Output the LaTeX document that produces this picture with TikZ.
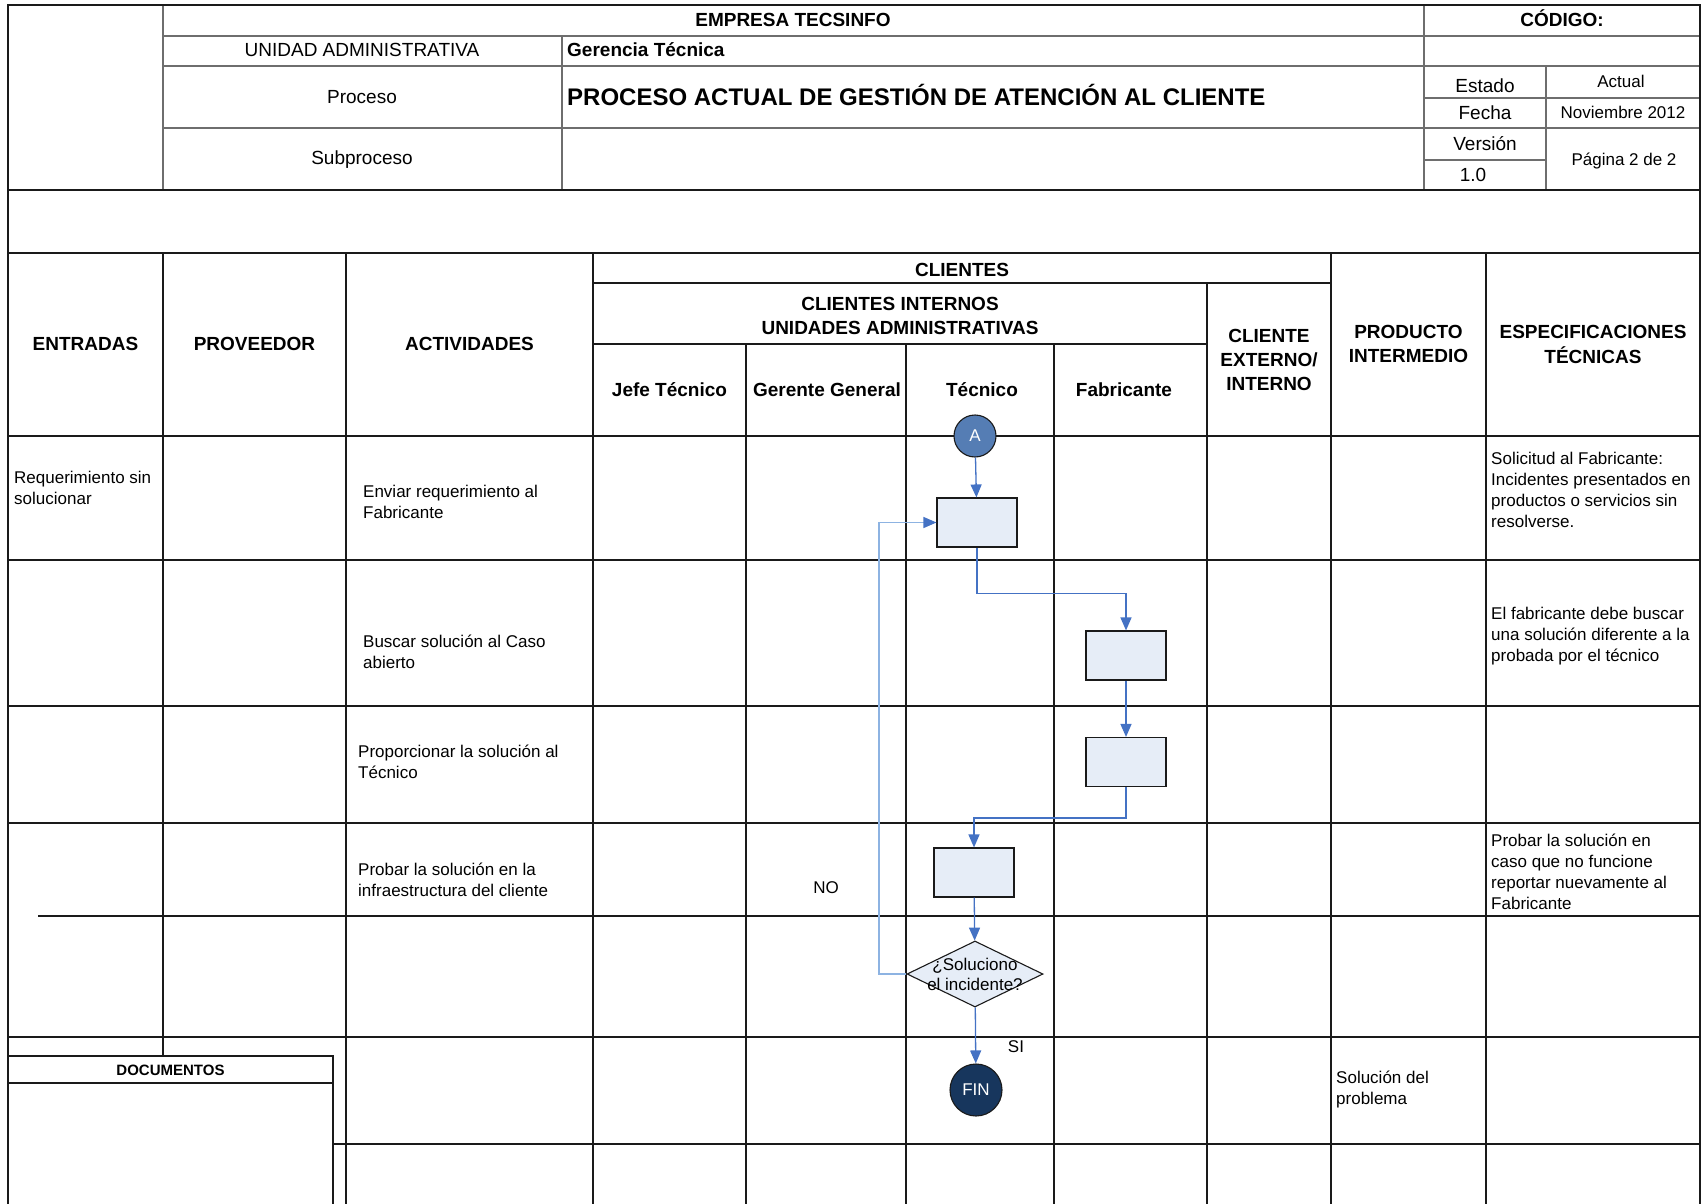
\documentclass[tikz,border=0pt]{standalone}
\usepackage{fontspec}
\setmainfont{Liberation Sans}
\usetikzlibrary{arrows.meta,shapes.geometric,calc}
\definecolor{tblblack}{HTML}{1A1A1A}
\definecolor{tblgray}{HTML}{6E6E6E}
\definecolor{boxfill}{HTML}{E6EDF7}
\definecolor{flowblue}{HTML}{4472C4}
\definecolor{loopblue}{HTML}{8DB3E2}
\definecolor{startfill}{HTML}{557DB4}
\definecolor{endfill}{HTML}{17365D}
\newcommand\setfs[2]{\fontsize{#1}{#2}\selectfont}
\begin{document}
\begin{tikzpicture}[x=1pt,y=-1pt,
  tbl/.style={draw=tblblack, line width=1.3},
  tblthin/.style={draw=tblgray, line width=1.3},
  hb/.style={font=\bfseries\setfs{19}{24}, inner sep=0, anchor=base},
  hbm/.style={font=\bfseries\setfs{19}{24}, inner sep=0, anchor=north, align=center},
  hr/.style={font=\setfs{19}{24}, inner sep=0, anchor=base},
  hs/.style={font=\setfs{17}{21}, inner sep=0, anchor=base},
  body/.style={font=\setfs{17}{21}, inner sep=0, anchor=north west, align=left},
  stepbox/.style={draw=tblblack, fill=boxfill, minimum width=80, minimum height=49, inner sep=0, line width=1.1},
  decision/.style={diamond, draw=tblblack, fill=boxfill, minimum width=136, minimum height=66, inner sep=0, line width=1.1},
  startnode/.style={circle, draw=tblblack, fill=startfill, minimum size=42, inner sep=0, line width=1.1, text=white, font=\setfs{17}{20}},
  endnode/.style={circle, draw=tblblack, fill=endfill, minimum size=52, inner sep=0, line width=1.1, text=white, font=\setfs{17}{20}},
  flow/.style={draw=flowblue, line width=1.3, -{Triangle[width=11pt,length=13pt]}},
  loopflow/.style={draw=loopblue, line width=1.3, -{Triangle[width=11pt,length=13pt,color=flowblue]}}
]
\useasboundingbox (0,0) rectangle (1701,1204);

% ---- title block ----
\draw[tblthin] (163,36) -- (1700,36);
\draw[tblthin] (163,66) -- (1700,66);
\draw[tblthin] (1424,98) -- (1700,98);
\draw[tblthin] (163,128) -- (1700,128);
\draw[tblthin] (1424,160) -- (1546,160);
\draw[tblthin] (163,5) -- (163,190);
\draw[tblthin] (562,36) -- (562,190);
\draw[tblthin] (1424,5) -- (1424,190);
\draw[tblthin] (1546,66) -- (1546,190);
\draw[tbl] (8,1204) -- (8,5) -- (1700,5) -- (1700,1204);
\draw[tbl] (8,190) -- (1700,190);
\draw[tbl] (8,253) -- (1700,253);

% ---- swimlane grid ----
\draw[tbl] (593,283) -- (1331,283);
\draw[tbl] (593,344) -- (1207,344);
\foreach \y in {436,560,706,823,1037} \draw[tbl] (8,\y) -- (1700,\y);
\draw[tbl] (38,916) -- (1700,916);
\draw[tbl] (333,1144) -- (1700,1144);
\draw[tbl] (163,253) -- (163,1056);
\foreach \x in {346,593,1331,1486} \draw[tbl] (\x,253) -- (\x,1204);
\foreach \x in {746,906,1054} \draw[tbl] (\x,344) -- (\x,1204);
\draw[tbl] (1207,283) -- (1207,1204);

% ---- documents box ----
\draw[tbl, fill=white] (8,1204) -- (8,1056) -- (333,1056) -- (333,1204);
\draw[tbl] (8,1083) -- (333,1083);
\node[font=\bfseries\setfs{15}{18}, inner sep=0, anchor=base] (tdoc) at (170.5,1075) {DOCUMENTOS};

% ---- title block texts ----
\node[hb] (tempresa) at (793,27) {EMPRESA TECSINFO};
\node[hb] (tcodigo) at (1562,27) {CÓDIGO:};
\node[hr] (tunidad) at (362,57) {UNIDAD ADMINISTRATIVA};
\node[hb, anchor=base west] (tgerencia) at (567,57) {Gerencia Técnica};
\node[hr] (tproceso) at (362,104) {Proceso};
\node[font=\bfseries\setfs{24}{29}, inner sep=0, anchor=base west] (ttitulo) at (567,106) {PROCESO ACTUAL DE GESTIÓN DE ATENCIÓN AL CLIENTE};
\node[hr] (tsub) at (362,165) {Subproceso};
\node[hr] (testado) at (1485,93) {Estado};
\node[hr] (tfecha) at (1485,120) {Fecha};
\node[hs] (tactual) at (1621,88) {Actual};
\node[hs] (tnov) at (1623,119) {Noviembre 2012};
\node[hr] (tversion) at (1485,151) {Versión};
\node[hr] (tnum) at (1473,182) {1.0};
\node[hs] (tpagina) at (1624,166) {Página 2 de 2};

% ---- column headers ----
\node[hb] (hentradas) at (85.5,350) {ENTRADAS};
\node[hb] (hproveedor) at (254.5,350) {PROVEEDOR};
\node[hb] (hactividades) at (469.5,350) {ACTIVIDADES};
\node[hb] (hclientes) at (962,276) {CLIENTES};
\node[hbm] (hinternos) at (900,310-16.8) {\strut CLIENTES INTERNOS\\UNIDADES ADMINISTRATIVAS};
\node[hb] (hjefe) at (669.5,396) {Jefe Técnico};
\node[hb] (hgerente) at (827,396) {Gerente General};
\node[hb] (htecnico) at (982,396) {Técnico};
\node[hb] (hfabricante) at (1124,396) {Fabricante};
\node[hbm] (hexterno) at (1269,342-16.8) {\strut CLIENTE\\EXTERNO/\\INTERNO};
\node[hbm] (hproducto) at (1408.5,338-16.8) {\strut PRODUCTO\\INTERMEDIO};
\node[hbm] (hespec) at (1593,338-16.8) {\strut ESPECIFICACIONES\\TÉCNICAS};

% ---- row texts ----
\node[body] (ent1) at (14,483-14.7) {\strut Requerimiento sin\\solucionar};
\node[body] (act1) at (363,497-14.7) {\strut Enviar requerimiento al\\Fabricante};
\node[body] (act2) at (363,647-14.7) {\strut Buscar solución al Caso\\abierto};
\node[body] (act3) at (358,757-14.7) {\strut Proporcionar la solución al\\Técnico};
\node[body] (act4) at (358,875-14.7) {\strut Probar la solución en la\\infraestructura del cliente};
\node[body] (esp1) at (1491,464-14.7) {\strut Solicitud al Fabricante:\\Incidentes presentados en\\productos o servicios sin\\resolverse.};
\node[body] (esp2) at (1491,619-14.7) {\strut El fabricante debe buscar\\una solución diferente a la\\probada por el técnico};
\node[body] (esp4) at (1491,846-14.7) {\strut Probar la solución en\\caso que no funcione\\reportar nuevamente al\\Fabricante};
\node[body] (prod6) at (1336,1083-14.7) {\strut Solución del\\problema};

% ---- flow ----
\node[startnode] (A) at (975,436) {A};
\node[stepbox] (b1) at (977,522.5) {};
\node[stepbox] (b2) at (1126,655.5) {};
\node[stepbox] (b3) at (1126,762) {};
\node[stepbox] (b4) at (974,872.5) {};
\node[decision, label={[font=\setfs{17}{20}, align=center, inner sep=0]center:{¿Soluciono\\el incidente?}}] (dec) at (975,974) {};
\node[endnode] (fin) at (976,1090) {FIN};
\node[hs] (lno) at (826,893) {NO};
\node[hs] (lsi) at (1016,1052) {SI};

\draw[flow] (A) -- (b1);
\draw[flow] (b1.south) -- ++(0,46) -| (b2.north);
\draw[flow] (b2) -- (b3);
\draw[flow] (b3.south) -- ++(0,31) -| (b4.north);
\draw[flow] (b4) -- (dec);
\coordinate (loopx) at (879,974);
\draw[loopflow] (dec.west) -- (loopx) |- (b1.west);
\draw[flow] (dec) -- (fin);
\end{tikzpicture}
\end{document}
